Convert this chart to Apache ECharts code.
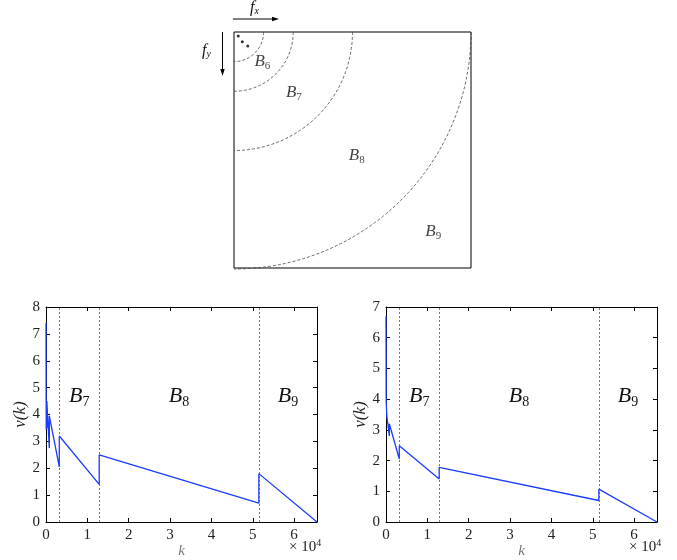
<!DOCTYPE html>
<html>
<head>
<meta charset="UTF-8">
<title>bands</title>
<script src="https://cdn.jsdelivr.net/npm/echarts@6/dist/echarts.min.js"></script>
<style>
  html, body { margin: 0; padding: 0; background: #fff; }
  #chart { width: 677px; height: 560px; }
</style>
</head>
<body>
<div id="chart"></div>
<script>
// --- data ---
var bandNames = ['6', '7', '8', '9'];             // subscripts of B
var ringRadii = [0.125, 0.25, 0.5, 1];            // dashed rings, fraction of side
var cornerDots = [[0.018, 0.017], [0.035, 0.041], [0.058, 0.059]];
var bandEdgesK = [3217, 12868, 51472];            // k where a new band starts
var plotBands = ['7', '8', '9'];
var kMax = 65536;
var nuLeft = [
  [0, 7.4], [50, 3.45], [50, 4.55], [201, 3.5], [201, 4.5], [804, 2.75],
  [804, 3.95], [3217, 2.05], [3217, 3.2], [12868, 1.4], [12868, 2.5],
  [51472, 0.7], [51472, 1.8], [65536, 0]
];
var nuRight = [
  [0, 6.7], [50, 3.9], [201, 3.45], [201, 3.5], [804, 2.8],
  [804, 3.2], [3217, 2.05], [3217, 2.48], [12868, 1.4], [12868, 1.78],
  [51472, 0.7], [51472, 1.07], [65536, 0]
];
var yMaxLeft = 8, yMaxRight = 7;

var serif = '"Liberation Serif", "DejaVu Serif", serif';
var chart = echarts.init(document.getElementById('chart'));

// label positions of the diagram: middle of each band, on the diagonal
var ringEdges = ringRadii.concat([Math.SQRT2]);
var diagLabels = bandNames.map(function (b, i) {
  var m = (ringEdges[i] + ringEdges[i + 1]) / 2 / Math.SQRT2;
  return { value: [m, m], name: b };
});

var bRich = {
  b: { fontFamily: serif, fontStyle: 'italic', fontSize: 17, color: '#111' },
  s: { fontFamily: serif, fontSize: 11, color: '#111', verticalAlign: 'bottom', padding: [9, 0, 0, 0] }
};
var bRichBig = {
  b: { fontFamily: serif, fontStyle: 'italic', fontSize: 22, color: '#111' },
  s: { fontFamily: serif, fontSize: 14, color: '#111', verticalAlign: 'bottom', padding: [11, 0, 0, 0] }
};

function bandAreas() {
  var edges = bandEdgesK.concat([kMax]);
  return plotBands.map(function (b, i) {
    return [{ xAxis: edges[i], name: b }, { xAxis: edges[i + 1] }];
  });
}

function plotAxes(gi, yMax) {
  var tickStyle = { show: true, inside: true, length: 4, lineStyle: { color: '#000', width: 1 } };
  var line = { show: true, onZero: false, lineStyle: { color: '#000', width: 1 } };
  var lbl = { fontFamily: serif, fontSize: 15, color: '#222' };
  return {
    x: [
      { gridIndex: gi, type: 'value', min: 0, max: kMax, interval: 10000,
        axisLine: line, axisTick: tickStyle,
        splitLine: { show: false }, name: 'k', nameLocation: 'middle', nameGap: 20,
        nameTextStyle: { fontFamily: serif, fontStyle: 'italic', fontSize: 15, color: '#777' },
        axisLabel: Object.assign({ margin: 6, showMaxLabel: false,
          formatter: function (v) { return v / 10000; } }, lbl) },
      { gridIndex: gi, type: 'value', min: 0, max: kMax, interval: 10000, position: 'top',
        axisLine: line, axisTick: tickStyle,
        splitLine: { show: false }, axisLabel: { show: false } }
    ],
    y: [
      { gridIndex: gi, type: 'value', min: 0, max: yMax, interval: 1,
        axisLine: line, axisTick: tickStyle,
        splitLine: { show: false }, name: 'ν(k)', nameLocation: 'middle', nameGap: 16,
        nameTextStyle: { fontFamily: serif, fontStyle: 'italic', fontSize: 17, color: '#222' },
        axisLabel: Object.assign({ margin: 6 }, lbl) },
      { gridIndex: gi, type: 'value', min: 0, max: yMax, interval: 1, position: 'right',
        axisLine: line, axisTick: tickStyle,
        splitLine: { show: false }, axisLabel: { show: false } }
    ]
  };
}

var axL = plotAxes(1, yMaxLeft);
var axR = plotAxes(2, yMaxRight);

function nuSeries(data, xi, yi) {
  return {
    type: 'line', xAxisIndex: xi, yAxisIndex: yi, data: data,
    showSymbol: false, symbol: 'none', animation: false,
    lineStyle: { color: '#1a3cff', width: 1.3 },
    markLine: {
      silent: true, symbol: 'none', label: { show: false },
      lineStyle: { color: '#555', width: 0.8, type: [2, 2] },
      data: bandEdgesK.map(function (k) { return { xAxis: k }; })
    },
    markArea: {
      silent: true, itemStyle: { color: 'rgba(0,0,0,0)' },
      label: { show: true, position: 'inside', offset: [0, -18],
        formatter: function (p) { return '{b|B}{s|' + p.name + '}'; }, rich: bRichBig },
      data: bandAreas()
    }
  };
}

chart.setOption({
  animation: false,
  backgroundColor: '#fff',
  grid: [
    { left: 234, top: 32, width: 237, height: 236, show: true, borderColor: '#000', borderWidth: 1 },
    { left: 46, right: 360, top: 307, bottom: 38 },
    { left: 386, right: 20, top: 307, bottom: 38 }
  ],
  xAxis: [
    { gridIndex: 0, type: 'value', min: 0, max: 1, show: false }
  ].concat(axL.x, axR.x),
  yAxis: [
    { gridIndex: 0, type: 'value', min: 0, max: 1, inverse: true, show: false }
  ].concat(axL.y, axR.y),
  series: [
    {
      type: 'custom', xAxisIndex: 0, yAxisIndex: 0, silent: true,
      data: ringRadii.map(function (r) { return [r, r]; }),
      renderItem: function (params, api) {
        var c = api.coord([0, 0]);
        var rr = api.size([api.value(0), api.value(0)]);
        return {
          type: 'arc',
          shape: { cx: c[0], cy: c[1], r: rr[0], startAngle: 0, endAngle: Math.PI / 2, clockwise: true },
          style: { stroke: '#444', lineWidth: 0.8, lineDash: [3, 2], fill: null }
        };
      }
    },
    {
      type: 'scatter', xAxisIndex: 0, yAxisIndex: 0, silent: true,
      data: cornerDots, symbolSize: 3, itemStyle: { color: '#000' }
    },
    {
      type: 'scatter', xAxisIndex: 0, yAxisIndex: 0, silent: true,
      data: diagLabels, symbolSize: 0,
      label: { show: true, position: 'inside', offset: [-3, -2],
        formatter: function (p) { return '{b|B}{s|' + p.name + '}'; }, rich: bRich }
    },
    nuSeries(nuLeft, 1, 1),
    nuSeries(nuRight, 3, 3)
  ],
  graphic: [
    // f_x arrow
    { type: 'line', shape: { x1: 233, y1: 19, x2: 276, y2: 19 }, style: { stroke: '#000', lineWidth: 1 } },
    { type: 'polygon', shape: { points: [[279, 19], [272, 16.8], [272, 21.2]] }, style: { fill: '#000' } },
    { type: 'text', left: 250, top: 0, style: { text: '{b|f}{s|x}', rich: {
      b: { fontFamily: serif, fontStyle: 'italic', fontSize: 16, fill: '#111' },
      s: { fontFamily: serif, fontStyle: 'italic', fontSize: 10, fill: '#111', padding: [7, 0, 0, 0] } } } },
    // f_y arrow
    { type: 'line', shape: { x1: 222.5, y1: 32, x2: 222.5, y2: 72 }, style: { stroke: '#000', lineWidth: 1 } },
    { type: 'polygon', shape: { points: [[222.5, 76], [220.3, 69], [224.7, 69]] }, style: { fill: '#000' } },
    { type: 'text', left: 202, top: 43, style: { text: '{b|f}{s|y}', rich: {
      b: { fontFamily: serif, fontStyle: 'italic', fontSize: 16, fill: '#111' },
      s: { fontFamily: serif, fontStyle: 'italic', fontSize: 10, fill: '#111', padding: [7, 0, 0, 0] } } } },
    // x 10^4 multipliers
    { type: 'text', left: 289, top: 538, style: { text: '× 10{s|4}', font: '15px ' + serif, fill: '#222',
      rich: { s: { fontFamily: serif, fontSize: 10, fill: '#222', padding: [0, 0, 8, 0] } } } },
    { type: 'text', left: 629, top: 538, style: { text: '× 10{s|4}', font: '15px ' + serif, fill: '#222',
      rich: { s: { fontFamily: serif, fontSize: 10, fill: '#222', padding: [0, 0, 8, 0] } } } }
  ]
});
</script>
</body>
</html>
